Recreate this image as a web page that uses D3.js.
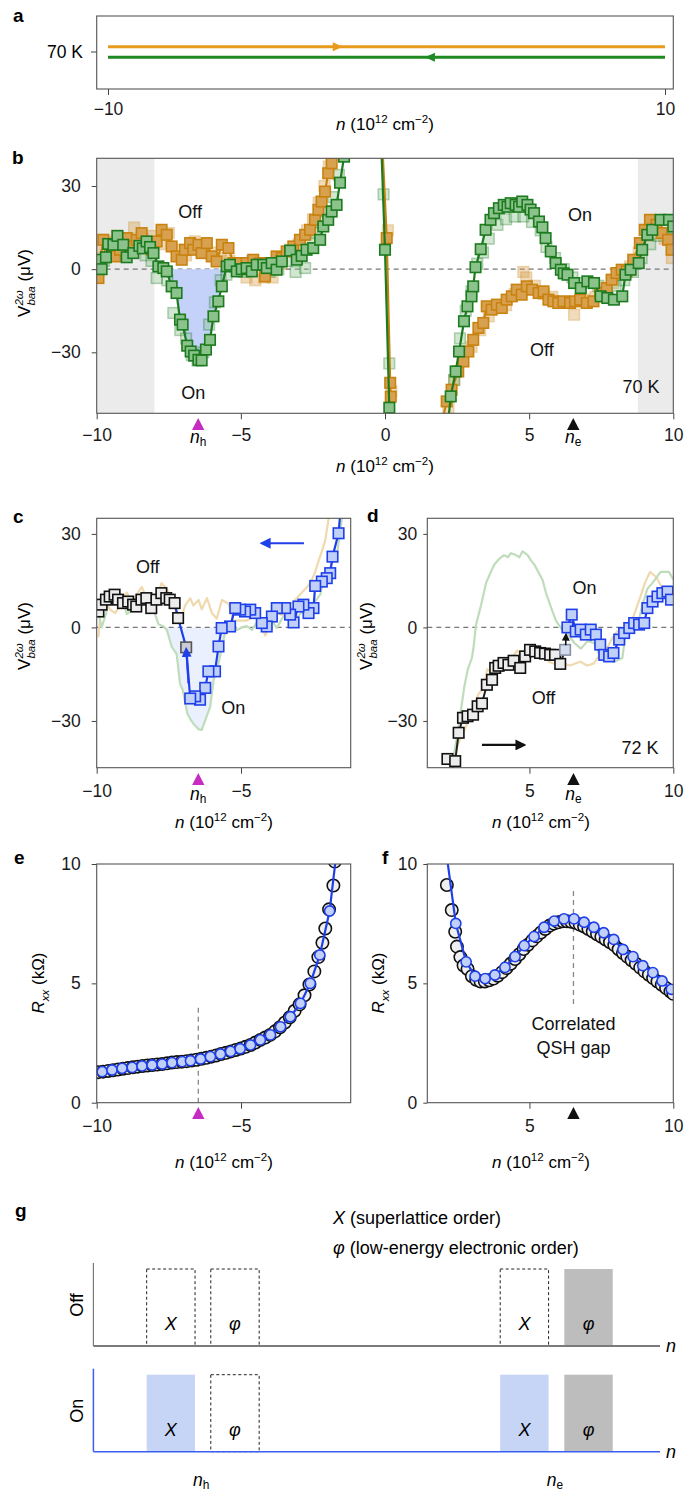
<!DOCTYPE html>
<html>
<head>
<meta charset="utf-8">
<script src="https://cdn.jsdelivr.net/npm/d3@7"></script>
<style>
  body { margin: 0; background: #fff; }
  svg { display: block; }
</style>
</head>
<body>
<svg id="fig" width="684" height="1491"></svg>
<script>
// ---------------- data ----------------
// characteristic densities (10^12 cm^-2)
const nH = -6.48;
const nE = 6.53;

// panel a: sweep directions at 70 K
const aSweeps = ["forward", "backward"];
const aRange = [-10, 10];
const aArrowAt = [-1.75, 1.56];

// panel b: V_baa^2w (uV) vs n, forward sweep (orange) and backward sweep (green)
const orangeLeft = [[-9.94,-3.2],[-9.88,3.4],[-9.77,10.6],[-9.54,5.8],[-9.36,4.6],[-9.19,7],[-8.96,11.2],[-8.79,8.2],[-8.61,10.6],[-8.44,13],[-8.27,9.4],[-8.09,7],[-7.92,10],[-7.75,14.2],[-7.57,12.4],[-7.4,8.2],[-7.23,4.6],[-7.05,3.4],[-6.94,7],[-6.76,9.4],[-6.65,7],[-6.47,8.8],[-6.36,5.8],[-6.18,9.4],[-6.01,4.6],[-5.84,2.8],[-5.66,8.8],[-5.43,7.6],[-5.26,2.2],[-5.03,2.2],[-4.8,2.2],[-4.57,3.4],[-4.34,2.2],[-4.16,-2.6],[-3.99,1],[-3.76,4.6],[-3.58,4],[-3.41,6.4],[-3.18,8.2],[-2.95,10.6],[-2.77,12.4],[-2.6,14.2],[-2.43,17.8],[-2.31,21.4],[-2.2,24.4],[-2.08,28],[-1.97,34.6],[-1.85,38.2],[-1.78,42]];
const orangeCNP = [[-0.08,42],[0.06,11.2],[0.18,-41],[0.2,-46],[0.3,-54]];
const orangeRight = [[2.0,-54],[2.14,-47.7],[2.31,-43.5],[2.54,-36.9],[2.72,-33.3],[2.89,-29.7],[3.06,-25.5],[3.24,-21.2],[3.41,-19.4],[3.53,-13.4],[3.7,-14.6],[3.88,-12.8],[4.05,-14],[4.22,-11],[4.4,-9.8],[4.57,-7.4],[4.74,-9.2],[4.92,-6.2],[5.1,-7.4],[5.33,-8.6],[5.5,-8],[5.67,-11],[5.84,-11.6],[6.01,-12.2],[6.19,-11.6],[6.42,-12.2],[6.59,-11.6],[6.77,-11],[7.0,-12.2],[7.23,-11.6],[7.46,-8.6],[7.69,-6.8],[7.86,-3.8],[8.03,-1.4],[8.21,-0.2],[8.38,-0.8],[8.61,3.4],[8.84,9.4],[9.01,14.2],[9.19,17.8],[9.42,16],[9.59,13],[9.82,10.6],[9.94,7]];
const greenLeft = [[-9.91,3.4],[-9.83,0],[-9.68,4.3],[-9.6,9.1],[-9.42,8.8],[-9.28,12],[-9.08,8.8],[-8.96,4.3],[-8.73,5.8],[-8.52,8.4],[-8.4,7.5],[-8.27,10],[-8.15,8],[-8.03,5.8],[-7.86,1],[-7.69,0.4],[-7.57,-0.8],[-7.4,-6.2],[-7.23,-8.6],[-7.11,-18.2],[-7.02,-20],[-6.86,-27.6],[-6.74,-29.7],[-6.62,-31.2],[-6.47,-32.7],[-6.36,-32.9],[-6.21,-29],[-6.07,-25.5],[-5.95,-17],[-5.78,-11.6],[-5.66,-6.2],[-5.49,1],[-5.38,1.6],[-5.14,-0.8],[-4.97,0],[-4.8,0.4],[-4.62,-0.8],[-4.45,1.6],[-4.22,1.6],[-4.1,0.4],[-3.93,2.2],[-3.76,-0.2],[-3.58,2.8],[-3.29,6.7],[-3.06,3.4],[-2.89,4.8],[-2.72,7],[-2.49,7.6],[-2.25,10.6],[-2.14,15.4],[-1.97,17.8],[-1.85,20.8],[-1.68,23.2],[-1.56,31.2],[-1.42,40.6]];
const greenCNP = [[-0.12,42],[0.0,7],[0.15,-50],[0.19,-54]];
const greenRight = [[2.2,-54],[2.28,-45.9],[2.45,-36.9],[2.57,-29.7],[2.74,-18.8],[2.86,-13.4],[3.0,-9.8],[3.06,-6.2],[3.14,0.7],[3.32,7.2],[3.49,14.2],[3.66,17.8],[3.78,20.2],[3.95,22],[4.12,23.2],[4.25,22.5],[4.36,23.8],[4.53,23.2],[4.65,22.5],[4.76,24.4],[4.94,23.2],[5.05,21.5],[5.17,20.2],[5.34,17.2],[5.46,15.1],[5.57,11.2],[5.75,6.4],[5.92,2.2],[6.1,-0.2],[6.2,-1.5],[6.33,-2],[6.56,-5],[6.79,-6.8],[7.02,-4.4],[7.25,-5],[7.48,-9.8],[7.71,-10.4],[7.94,-11],[8.23,-9.8],[8.34,-2],[8.52,-0.2],[8.8,2.2],[8.92,7],[9.1,12.4],[9.27,14.2],[9.56,17.8],[9.85,17.8],[10,15.4]];
// repeated sweeps (drawn faint)
const orangeRepeat = [[-9.97,2],[-9.85,8],[-9.6,10],[-9.3,12],[-9.0,9],[-8.7,15],[-8.4,11],[-8.1,12],[-7.8,9],[-7.5,13],[-7.2,7],[-6.9,5],[-6.6,10],[-6.3,8],[-6.0,6],[-5.7,4],[-5.4,3],[-5.1,1],[-4.8,-3],[-4.5,-4],[-4.2,-3],[-3.9,-3],[-3.6,2],[-3.3,7],[-3.0,9],[-2.7,14],[-2.5,18],[-2.3,24],[-2.1,30],[-1.95,37],[0.1,14],[0.22,-44],[2.2,-50],[2.4,-40],[2.7,-30],[3.0,-28],[3.3,-22],[3.6,-17],[3.9,-14],[4.2,-13],[4.5,-9],[4.8,-1],[4.9,-3],[5.2,-6],[5.5,-9],[5.8,-10],[6.1,-12],[6.56,-16.4],[6.9,-11],[7.3,-10],[7.6,-8],[7.9,-5],[8.2,-2],[8.5,1],[8.8,6],[9.1,12],[9.4,15],[9.7,11],[9.95,4]];
const greenRepeat = [[-9.95,-1],[-9.75,3],[-9.5,6],[-9.2,11],[-8.9,6],[-8.6,9],[-8.3,5],[-8.1,3],[-7.92,-3.2],[-7.55,-4],[-7.34,-15.8],[-7.1,-22],[-6.9,-25],[-6.7,-31],[-6.5,-33],[-6.3,-30],[-6.1,-20],[-5.9,-12],[-5.7,-4],[-5.5,-2],[-5.2,1],[-4.9,-1],[-4.6,3],[-4.3,2],[-4.0,-1],[-3.7,0],[-3.4,3],[-3.1,-1],[-2.77,0.4],[-2.6,11],[-2.4,13],[-2.2,17],[-2.0,21],[-1.8,26],[-1.6,34],[-0.05,27],[0.15,-34],[2.4,-40],[2.6,-25],[2.8,-15],[3.0,-8],[3.2,2],[3.4,6],[3.6,11],[3.9,16],[4.2,18],[4.5,19],[4.8,19],[5.1,17],[5.4,14],[5.6,8],[5.9,4],[6.2,0],[6.5,-3],[6.8,-5],[7.1,-5],[7.4,-6],[7.7,-8],[8.0,-6],[8.3,-4],[8.6,-1],[8.9,4],[9.2,9],[9.5,12],[9.8,13],[10,11]];
const bGapRegions = [[-10, -8.0], [8.77, 10]];
const bShadeRange = [-7.7, -5.45];

// panel c: hole side, sweep toward negative n
const cOff = [[-9.94,5.1],[-9.83,7.3],[-9.68,8.9],[-9.55,9.9],[-9.38,10.5],[-9.26,8.9],[-9.09,7.8],[-8.91,8.3],[-8.74,7.3],[-8.63,6.7],[-8.45,8.9],[-8.28,9.4],[-8.11,6.2],[-7.93,8.9],[-7.76,11],[-7.59,9.4],[-7.47,8.9],[-7.3,7.8],[-7.18,3.0]];
const cSwitch = [[-6.9,-6.4]];
const cOn = [[-1.55,38],[-1.62,30.2],[-1.83,22.7],[-1.91,17.4],[-2.03,15.8],[-2.2,14.7],[-2.43,13.3],[-2.49,6.2],[-2.66,4.6],[-2.84,7.3],[-3.01,6.7],[-3.18,1.6],[-3.3,4.1],[-3.47,6.2],[-3.76,6.2],[-3.93,3.5],[-4.11,0.3],[-4.28,1.4],[-4.51,4.6],[-4.68,5.7],[-4.86,5.1],[-5.03,5.7],[-5.2,6.2],[-5.38,0.3],[-5.67,-0.2],[-5.78,-6.1],[-5.9,-14.1],[-6.13,-14.1],[-6.24,-19.4],[-6.42,-23.2],[-6.59,-22.1],[-6.76,-22.8]];
const cSweepArrow = [[-2.82,27],[-4.28,27]];

// panel d: electron side at 72 K, sweep toward positive n
const dOff = [[2.15,-42.2],[2.42,-42.9],[2.54,-33.8],[2.69,-29],[2.85,-28.5],[3.04,-28],[3.2,-25.3],[3.35,-24.4],[3.52,-18.4],[3.7,-16.8],[3.81,-13],[3.93,-12.3],[4.1,-11.4],[4.27,-12],[4.45,-10.7],[4.68,-13],[4.85,-9.3],[5.02,-7.2],[5.2,-7.7],[5.37,-8.2],[5.54,-8.4],[5.72,-8.8],[5.89,-8.8],[6.07,-11.7]];
const dSwitch = [[6.24,-7.2]];
const dOn = [[6.32,0],[6.47,4.1],[6.61,-1.3],[6.78,-0.7],[6.96,-2.3],[7.13,-0.7],[7.31,-2.3],[7.46,-5.5],[7.6,-8.8],[7.77,-9.3],[7.92,-8.2],[8.12,-3.9],[8.29,-1.8],[8.47,-0.2],[8.64,1.4],[8.81,0.9],[8.99,1.4],[9.1,6.2],[9.28,8.3],[9.45,9.9],[9.62,11],[9.8,11.5],[9.92,8.9]];
const dSweepArrow = [[3.35,-37.7],[4.82,-37.7]];

// panels e, f: R_xx (kOhm), off state (open) and on state (blue)
const eOff = [[-9.95,1.28],[-9.78,1.3],[-9.6,1.33],[-9.43,1.36],[-9.26,1.39],[-9.09,1.42],[-8.92,1.45],[-8.75,1.48],[-8.58,1.51],[-8.41,1.54],[-8.24,1.56],[-8.07,1.58],[-7.9,1.6],[-7.73,1.62],[-7.56,1.65],[-7.39,1.68],[-7.22,1.7],[-7.05,1.72],[-6.88,1.74],[-6.71,1.77],[-6.54,1.8],[-6.37,1.84],[-6.2,1.88],[-6.03,1.93],[-5.86,1.98],[-5.69,2.04],[-5.52,2.09],[-5.35,2.15],[-5.18,2.21],[-5.01,2.27],[-4.84,2.34],[-4.67,2.42],[-4.5,2.52],[-4.33,2.63],[-4.16,2.73],[-3.99,2.84],[-3.82,2.99],[-3.65,3.16],[-3.48,3.36],[-3.31,3.58],[-3.14,3.85],[-2.97,4.12],[-2.8,4.5],[-2.63,4.95],[-2.46,5.5],[-2.32,6.1],[-2.18,6.7],[-2.08,7.3],[-1.95,8.1],[-1.8,9.1],[-1.75,10.1]];
const eOn = [[-9.81,1.3],[-9.47,1.37],[-9.12,1.44],[-8.77,1.48],[-8.43,1.54],[-8.08,1.58],[-7.73,1.62],[-7.39,1.68],[-7.04,1.72],[-6.75,1.76],[-6.4,1.83],[-6.06,1.93],[-5.71,2.04],[-5.36,2.15],[-5.03,2.26],[-4.67,2.42],[-4.33,2.63],[-3.98,2.84],[-3.63,3.18],[-3.29,3.6],[-2.94,4.16],[-2.6,5.0],[-2.27,6.19],[-1.93,8.03],[-1.7,10.4]];
const fOff = [[2.13,9.12],[2.3,8.07],[2.42,7.16],[2.48,6.54],[2.6,6.1],[2.71,5.75],[2.85,5.6],[3.0,5.3],[3.15,5.15],[3.3,5.08],[3.45,5.08],[3.6,5.13],[3.75,5.2],[3.9,5.32],[4.05,5.47],[4.2,5.64],[4.35,5.82],[4.5,6.02],[4.65,6.22],[4.8,6.44],[4.95,6.62],[5.1,6.8],[5.25,6.97],[5.4,7.13],[5.55,7.28],[5.7,7.42],[5.85,7.5],[6.0,7.56],[6.15,7.6],[6.3,7.6],[6.45,7.58],[6.6,7.54],[6.75,7.46],[6.9,7.38],[7.05,7.28],[7.2,7.17],[7.35,7.06],[7.5,6.95],[7.65,6.84],[7.8,6.72],[7.95,6.6],[8.1,6.43],[8.25,6.27],[8.4,6.12],[8.55,5.97],[8.7,5.82],[8.85,5.66],[9.0,5.5],[9.15,5.36],[9.3,5.22],[9.45,5.08],[9.6,4.94],[9.75,4.8],[9.9,4.66],[10.0,4.56]];
const fOn = [[2.12,10.4],[2.44,7.51],[2.8,5.9],[3.11,5.3],[3.46,5.2],[3.8,5.35],[4.15,5.67],[4.5,6.12],[4.82,6.58],[5.16,6.96],[5.51,7.35],[5.86,7.61],[6.2,7.7],[6.55,7.7],[6.9,7.56],[7.24,7.35],[7.58,7.12],[7.93,6.84],[8.25,6.42],[8.6,6.12],[8.94,5.74],[9.29,5.45],[9.61,5.1],[9.93,4.75]];
const eMarkerTop = 4.05;
const fMarkerSpan = [4.13, 8.91];

// panel g: schematic of orders at n_h and n_e
const gRows = ["Off", "On"];
const gBoxes = [["X", nH], ["φ", nH], ["X", nE], ["φ", nE]];
const gOffStates = ["dashed", "dashed", "dashed", "gray"];
const gOnStates = ["blue", "dashed", "blue", "gray"];

// ---------------- drawing ----------------
const FONT = '"Liberation Sans", Arial, Helvetica, sans-serif';
const TICK = 17.5, TITLE = 17, NOTE = 18;
const COL = {
  orange: "#c8820f", orangeFill: "#d8a150",
  green: "#1c7a1f", greenFill: "#8cc28b",
  blue: "#1f3fe8", blueFill: "#c0d0f8",
  shade: "#c4d2fa", paleShade: "#eaf0fd",
  gap: "#ebebeb", magenta: "#c62cc2",
  paleOrange: "#f0d9ae", paleGreen: "#bfdcbb",
  frame: "#555"
};

const svg = d3.select("#fig").attr("font-family", FONT);
const defs = svg.append("defs");

function rich(text, parts, size) {
  let shift = 0, prev = null;
  parts.forEach(p => {
    const ts = text.append("tspan").text(p.t);
    if (p.i) ts.attr("font-style", "italic");
    let target = 0;
    if (p.sup) { ts.attr("font-size", size * 0.68); target = -size * 0.42; }
    else if (p.sub) { ts.attr("font-size", size * 0.68); target = size * 0.28; }
    if (target !== shift) { ts.attr("dy", target - shift); shift = target; }
    if (p.back && prev) ts.attr("dx", -prev.node().getComputedTextLength());
    prev = ts;
  });
  return text;
}
const nTitle = [{t: "n", i: true}, {t: " (10"}, {t: "12", sup: true}, {t: " cm"}, {t: "−2", sup: true}, {t: ")"}];
const vTitle = [{t: "V"}, {t: "2ω", sup: true, i: true}, {t: "baa", sub: true, i: true, back: true}, {t: " (μV)"}];
const rTitle = [{t: "R", i: true}, {t: "xx", sub: true, i: true}, {t: " (kΩ)"}];

function letter(ch, x, y) {
  svg.append("text").attr("x", x).attr("y", y).attr("font-weight", "bold")
    .attr("font-size", 19).attr("dominant-baseline", "central").text(ch);
}

let clipId = 0;
function panel(x, y) {
  const g = svg.append("g");
  const id = "clip" + (clipId++);
  defs.append("clipPath").attr("id", id).append("rect")
    .attr("x", x.range()[0]).attr("y", y.range()[1])
    .attr("width", x.range()[1] - x.range()[0]).attr("height", y.range()[0] - y.range()[1]);
  const plot = g.append("g").attr("clip-path", `url(#${id})`);
  return {g, plot};
}

function frame(g, x, y) {
  g.append("rect").attr("x", x.range()[0]).attr("y", y.range()[1])
    .attr("width", x.range()[1] - x.range()[0]).attr("height", y.range()[0] - y.range()[1])
    .attr("fill", "none").attr("stroke", COL.frame).attr("stroke-width", 1.1);
}

function axes(g, x, y, xt, yt, o) {
  const fmt = d3.format("d");
  const ax = g.append("g").attr("transform", `translate(0,${y.range()[0]})`)
    .call(d3.axisBottom(x).tickValues(xt).tickSize(6).tickPadding(o.xpad).tickFormat(fmt));
  const ay = g.append("g").attr("transform", `translate(${x.range()[0]},0)`)
    .call(d3.axisLeft(y).tickValues(yt).tickSize(o.ysize).tickPadding(o.ypad).tickFormat(fmt));
  [ax, ay].forEach(a => {
    a.attr("font-family", FONT);
    a.select(".domain").remove();
    a.selectAll("line").attr("stroke", "#444");
    a.selectAll("text").attr("font-size", TICK).attr("fill", "#1a1a1a");
  });
  frame(g, x, y);
}

function xTitle(g, cx, by) {
  rich(g.append("text").attr("x", cx).attr("y", by).attr("text-anchor", "middle")
    .attr("font-size", TITLE), nTitle, TITLE);
}
function yTitle(g, cx, cy, parts) {
  rich(g.append("text").attr("transform", `translate(${cx},${cy}) rotate(-90)`)
    .attr("text-anchor", "middle").attr("font-size", TITLE), parts, TITLE);
}
function note(g, x, y, str) {
  g.append("text").attr("x", x).attr("y", y).attr("text-anchor", "middle")
    .attr("dominant-baseline", "central").attr("font-size", NOTE).attr("fill", "#111").text(str);
}
function zeroLine(g, x, y) {
  g.append("line").attr("x1", x.range()[0]).attr("x2", x.range()[1])
    .attr("y1", y(0)).attr("y2", y(0))
    .attr("stroke", "#777").attr("stroke-width", 1.2).attr("stroke-dasharray", "5,4");
}
function tri(g, cx, top, color) {
  g.append("path").attr("d", `M${cx},${top} l6.2,12 h-12.4 z`).attr("fill", color);
}
function densityLabel(g, cx, cy, sub) {
  rich(g.append("text").attr("x", cx).attr("y", cy).attr("text-anchor", "middle")
    .attr("dominant-baseline", "central").attr("font-size", TICK),
    [{t: "n", i: true}, {t: sub, sub: true}], TICK);
}
function squares(g, x, y, pts, fill, stroke, opacity, size) {
  const s = size || 10.5;
  g.append("g").selectAll("rect").data(pts).join("rect")
    .attr("x", d => x(d[0]) - s / 2).attr("y", d => y(d[1]) - s / 2)
    .attr("width", s).attr("height", s)
    .attr("fill", fill).attr("stroke", stroke).attr("stroke-width", 1.6)
    .attr("opacity", opacity == null ? 1 : opacity);
}
function circles(g, x, y, pts, fill, stroke, r) {
  g.append("g").selectAll("circle").data(pts).join("circle")
    .attr("cx", d => x(d[0])).attr("cy", d => y(d[1])).attr("r", r)
    .attr("fill", fill).attr("stroke", stroke).attr("stroke-width", 1.6);
}
function trace(g, x, y, pts, color, w) {
  g.append("path").datum(pts)
    .attr("d", d3.line().x(d => x(d[0])).y(d => y(d[1])))
    .attr("fill", "none").attr("stroke", color).attr("stroke-width", w || 2)
    .attr("stroke-linejoin", "round");
}
function shade(g, x, y, pts, range, color) {
  const seg = pts.filter(d => d[0] >= range[0] && d[0] <= range[1]);
  g.append("path").datum(seg)
    .attr("d", d3.area().x(d => x(d[0])).y0(y(0)).y1(d => y(Math.min(d[1], 0))))
    .attr("fill", color);
}
function inside(x, y) {
  const [x0, x1] = x.domain(), [y0, y1] = y.domain();
  return d => d[0] >= Math.min(x0, x1) - 0.2 && d[0] <= Math.max(x0, x1) + 0.2 && d[1] <= y1 + 1 && d[1] >= y0 - 1;
}
function marker(id, color) {
  defs.append("marker").attr("id", id).attr("viewBox", "0 0 10 10")
    .attr("refX", 8).attr("refY", 5).attr("markerWidth", 5).attr("markerHeight", 5)
    .attr("markerUnits", "strokeWidth").attr("orient", "auto")
    .append("path").attr("d", "M0,0 L10,5 L0,10 z").attr("fill", color);
}
marker("arrowBlue", COL.blue);
marker("arrowBlack", "#111");
function arrow(g, x, y, pts, color, id, w) {
  g.append("path").datum(pts)
    .attr("d", d3.line().x(d => x(d[0])).y(d => y(d[1])))
    .attr("fill", "none").attr("stroke", color).attr("stroke-width", w || 2)
    .attr("marker-end", `url(#${id})`);
}

// ---------- panel a ----------
{
  const xA = d3.scaleLinear([-10, 10], [108, 665]);
  const yA = d3.scaleBand(aSweeps, [41.5, 62.5]);
  const g = svg.append("g");
  g.append("rect").attr("x", 96.7).attr("y", 16).attr("width", 576.6).attr("height", 73)
    .attr("fill", "none").attr("stroke", COL.frame).attr("stroke-width", 1.1);
  const colors = {forward: "#e89a1c", backward: "#1f8a22"};
  aSweeps.forEach((s, i) => {
    const yy = yA(s) + yA.bandwidth() / 2;
    g.append("line").attr("x1", xA(aRange[0])).attr("x2", xA(aRange[1]))
      .attr("y1", yy).attr("y2", yy).attr("stroke", colors[s]).attr("stroke-width", 3.2);
    const ax = xA(aArrowAt[i]), dir = s === "forward" ? 1 : -1;
    g.append("path").attr("d", `M${ax + dir * 5},${yy} L${ax - dir * 5},${yy - 4.5} L${ax - dir * 5},${yy + 4.5} z`)
      .attr("fill", colors[s]);
  });
  const yMid = yA.range()[0] + (yA.range()[1] - yA.range()[0]) / 2;
  g.append("line").attr("x1", 91).attr("x2", 96.7).attr("y1", yMid).attr("y2", yMid).attr("stroke", "#444");
  g.append("text").attr("x", 83).attr("y", yMid).attr("text-anchor", "end")
    .attr("dominant-baseline", "central").attr("font-size", TICK).text("70 K");
  const ax = g.append("g").attr("transform", "translate(0,89)")
    .call(d3.axisBottom(xA).tickValues(aRange).tickSize(6).tickPadding(8).tickFormat(d3.format("d")));
  ax.attr("font-family", FONT);
  ax.select(".domain").remove();
  ax.selectAll("line").attr("stroke", "#444");
  ax.selectAll("text").attr("font-size", TICK).attr("fill", "#1a1a1a");
  xTitle(g, 385, 130);
  letter("a", 13, 15);
}

// ---------- panel b ----------
{
  const x = d3.scaleLinear([-10, 10], [96.7, 673.3]);
  const y = d3.scaleLinear([-52, 40], [413.3, 158.3]);
  const {g, plot} = panel(x, y);
  bGapRegions.forEach(r => plot.append("rect").attr("x", x(r[0])).attr("width", x(r[1]) - x(r[0]))
    .attr("y", y.range()[1]).attr("height", y.range()[0] - y.range()[1]).attr("fill", COL.gap));
  zeroLine(plot, x, y);
  shade(plot, x, y, greenLeft, bShadeRange, COL.shade);
  const ok = inside(x, y);
  squares(plot, x, y, orangeRepeat.filter(ok), COL.orangeFill, COL.orange, 0.38);
  squares(plot, x, y, greenRepeat.filter(ok), COL.greenFill, COL.green, 0.38);
  [orangeLeft, orangeCNP, orangeRight].forEach(s => {
    trace(plot, x, y, s, COL.orange, 2.2);
    squares(plot, x, y, s.filter(ok), COL.orangeFill, COL.orange);
  });
  [greenLeft, greenCNP, greenRight].forEach(s => {
    trace(plot, x, y, s, COL.green, 2.2);
    squares(plot, x, y, s.filter(ok), COL.greenFill, COL.green);
  });
  axes(g, x, y, [-10, -5, 0, 5, 10], [-30, 0, 30], {xpad: 9, ysize: 5, ypad: 11});
  note(g, x(-6.76), y(20.6), "Off");
  note(g, x(-6.65), y(-44.7), "On");
  note(g, x(6.76), y(19.5), "On");
  note(g, x(5.44), y(-29.2), "Off");
  note(g, x(8.88), y(-42.4), "70 K");
  tri(g, x(nH), 418, COL.magenta);
  tri(g, x(nE), 418, "#111");
  densityLabel(g, x(nH), 437, "h");
  densityLabel(g, x(nE), 437, "e");
  xTitle(g, 385, 472);
  yTitle(g, 30, 283, vTitle);
  letter("b", 12, 157);
}

// ---------- panel c ----------
{
  const x = d3.scaleLinear([-10, -1.2], [96.7, 350.7]);
  const y = d3.scaleLinear([-45, 35], [767.7, 518.3]);
  const {g, plot} = panel(x, y);
  shade(plot, x, y, greenLeft, bShadeRange, COL.paleShade);
  zeroLine(plot, x, y);
  trace(plot, x, y, orangeLeft, COL.paleOrange, 2.2);
  trace(plot, x, y, greenLeft, COL.paleGreen, 2.2);
  const ok = inside(x, y);
  trace(plot, x, y, cOff, "#222", 1.5);
  trace(plot, x, y, cOn, COL.blue, 2.2);
  trace(plot, x, y, [cOn[cOn.length - 1], cSwitch[0], cOff[cOff.length - 1], cOff[cOff.length - 2]], COL.blue, 2.2);
  squares(plot, x, y, cOff, "#ececec", "#111");
  squares(plot, x, y, cOn.filter(ok).filter(d => d[1] <= 35), COL.blueFill, COL.blue);
  squares(plot, x, y, cSwitch, "#c9ccd6", "#555");
  arrow(plot, x, y, [[cOn[cOn.length - 1][0] - 0.06, -18], [cSwitch[0][0], cSwitch[0][1] - 0.5]], COL.blue, "arrowBlue", 2);
  arrow(g, x, y, cSweepArrow, COL.blue, "arrowBlue", 2.2);
  axes(g, x, y, [-10, -5], [-30, 0, 30], {xpad: 11, ysize: 5, ypad: 11});
  note(g, x(-8.23), y(19.5), "Off");
  note(g, x(-5.27), y(-25.7), "On");
  tri(g, x(nH), 773, COL.magenta);
  densityLabel(g, x(nH), 794, "h");
  xTitle(g, 224, 828);
  yTitle(g, 30, 636, vTitle);
  letter("c", 13, 516);
}

// ---------- panel d ----------
{
  const x = d3.scaleLinear([1.45, 10], [427.3, 673.3]);
  const y = d3.scaleLinear([-45, 35], [767.7, 518.3]);
  const {g, plot} = panel(x, y);
  zeroLine(plot, x, y);
  trace(plot, x, y, orangeRight, COL.paleOrange, 2.2);
  trace(plot, x, y, greenRight, COL.paleGreen, 2.2);
  trace(plot, x, y, [[2.3, -46]].concat(dOff.slice(1), dSwitch), "#222", 2);
  trace(plot, x, y, dOn, COL.blue, 2.2);
  squares(plot, x, y, dOff, "#ececec", "#111");
  squares(plot, x, y, dSwitch, "#d5dcee", "#8890a8");
  arrow(plot, x, y, [[dSwitch[0][0] + 0.02, dSwitch[0][1] + 1.5], [dOn[0][0] - 0.05, dOn[0][1] - 2.2]], "#111", "arrowBlack", 1.6);
  squares(plot, x, y, dOn, COL.blueFill, COL.blue);
  arrow(g, x, y, dSweepArrow, "#111", "arrowBlack", 2.2);
  axes(g, x, y, [5, 10], [-30, 0, 30], {xpad: 11, ysize: 4, ypad: 6});
  note(g, x(6.91), y(12.5), "On");
  note(g, x(5.49), y(-22.8), "Off");
  note(g, x(8.84), y(-38.8), "72 K");
  tri(g, x(nE), 773, "#111");
  densityLabel(g, x(nE), 794, "e");
  xTitle(g, 541, 828);
  yTitle(g, 372, 636, vTitle);
  letter("d", 367, 515);
}

// ---------- panel e ----------
{
  const x = d3.scaleLinear([-10, -1.2], [96.7, 350.7]);
  const y = d3.scaleLinear([0, 10], [1102.7, 864]);
  const {g, plot} = panel(x, y);
  plot.append("line").attr("x1", x(nH)).attr("x2", x(nH)).attr("y1", y(0)).attr("y2", y(eMarkerTop))
    .attr("stroke", "#888").attr("stroke-width", 1.3).attr("stroke-dasharray", "5,4");
  circles(plot, x, y, eOff, "#efefef", "#111", 6.2);
  trace(plot, x, y, eOn, COL.blue, 2.2);
  circles(plot, x, y, eOn.filter(d => d[1] <= 10), COL.blueFill, COL.blue, 5.1);
  axes(g, x, y, [-10, -5], [0, 5, 10], {xpad: 11, ysize: 5, ypad: 11});
  tri(g, x(nH), 1107, COL.magenta);
  xTitle(g, 224, 1168);
  yTitle(g, 44, 983, rTitle);
  letter("e", 14, 857);
}

// ---------- panel f ----------
{
  const x = d3.scaleLinear([1.45, 10], [427.3, 673.3]);
  const y = d3.scaleLinear([0, 10], [1102.7, 864]);
  const {g, plot} = panel(x, y);
  plot.append("line").attr("x1", x(nE)).attr("x2", x(nE)).attr("y1", y(fMarkerSpan[0])).attr("y2", y(fMarkerSpan[1]))
    .attr("stroke", "#888").attr("stroke-width", 1.3).attr("stroke-dasharray", "5,4");
  circles(plot, x, y, fOff, "#efefef", "#111", 6.2);
  trace(plot, x, y, fOn, COL.blue, 2.2);
  circles(plot, x, y, fOn.filter(d => d[1] <= 10), COL.blueFill, COL.blue, 5.1);
  axes(g, x, y, [5, 10], [0, 5, 10], {xpad: 11, ysize: 4, ypad: 6});
  note(g, x(nE), y(3.3), "Correlated");
  note(g, x(nE), y(2.31), "QSH gap");
  tri(g, x(nE), 1107, "#111");
  xTitle(g, 541, 1168);
  yTitle(g, 384, 983, rTitle);
  letter("f", 382, 857);
}

// ---------- panel g ----------
{
  const gx = d3.scaleLinear([-10.45, 10.4], [93.4, 660]);
  const gy = d3.scalePoint(gRows, [1346, 1451.7]);
  const boxW = 1.78, boxH = 77, axisH = 83;
  const shift = {"X": -1.12, "φ": 1.24};
  const rowColor = {Off: "#7a7a7a", On: "#3a5ef0"};
  const fills = {gray: "#bdbdbd", blue: "#c6d5f6"};
  const g = svg.append("g");
  letter("g", 15, 1210);
  const legend = [[{t: "X", i: true}, {t: " (superlattice order)"}], [{t: "φ", i: true}, {t: " (low-energy electronic order)"}]];
  legend.forEach((parts, i) => rich(g.append("text").attr("x", 333).attr("y", 1224 + i * 30)
    .attr("font-size", NOTE), parts, NOTE));
  gRows.forEach(row => {
    const base = gy(row);
    const states = row === "Off" ? gOffStates : gOnStates;
    gBoxes.forEach((b, i) => {
      const c = b[1] + shift[b[0]];
      const x0 = gx(c - boxW / 2), x1 = gx(c + boxW / 2);
      const st = states[i];
      const r = g.append("rect").attr("x", x0).attr("y", base - boxH).attr("width", x1 - x0).attr("height", boxH);
      if (st === "dashed") r.attr("fill", "none").attr("stroke", "#222").attr("stroke-width", 1).attr("stroke-dasharray", "3,2.5");
      else r.attr("fill", fills[st]);
      g.append("text").attr("x", gx(c)).attr("y", base - 22).attr("text-anchor", "middle")
        .attr("dominant-baseline", "central").attr("font-style", "italic").attr("font-size", NOTE).text(b[0]);
    });
    g.append("line").attr("x1", gx.range()[0]).attr("x2", gx.range()[0]).attr("y1", base - axisH).attr("y2", base)
      .attr("stroke", rowColor[row]).attr("stroke-width", row === "Off" ? 1.2 : 1.5);
    g.append("line").attr("x1", gx.range()[0]).attr("x2", gx.range()[1]).attr("y1", base).attr("y2", base)
      .attr("stroke", rowColor[row]).attr("stroke-width", row === "Off" ? 2.2 : 1.6);
    g.append("text").attr("x", gx.range()[1] + 11).attr("y", base).attr("text-anchor", "middle")
      .attr("dominant-baseline", "central").attr("font-style", "italic").attr("font-size", NOTE).text("n");
    g.append("text").attr("transform", `translate(77,${base - 41}) rotate(-90)`).attr("text-anchor", "middle")
      .attr("dominant-baseline", "central").attr("font-size", NOTE).text(row);
  });
  densityLabel(g, gx(nH), 1480, "h");
  densityLabel(g, gx(nE), 1480, "e");
}
</script>
</body>
</html>
